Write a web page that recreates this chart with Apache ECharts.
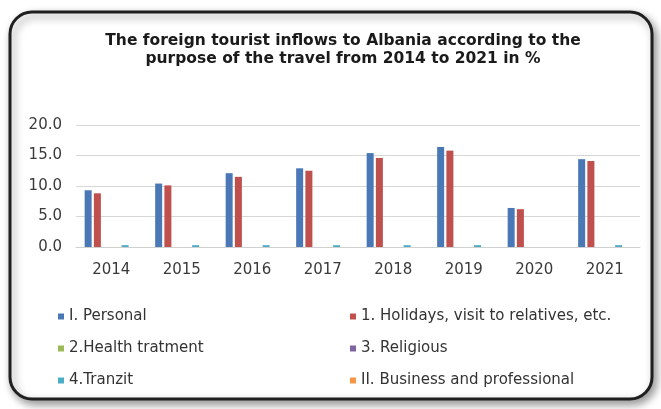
<!DOCTYPE html>
<html>
<head>
<meta charset="utf-8">
<script src="https://cdn.jsdelivr.net/npm/echarts@6/dist/echarts.min.js"></script>
<style>
  html, body { margin: 0; padding: 0; background: #ffffff; }
  #chart { width: 661px; height: 409px; }
</style>
</head>
<body>
<div id="chart"></div>
<script>
// Years on the category axis
const years = ['2014', '2015', '2016', '2017', '2018', '2019', '2020', '2021'];

// Share of foreign tourist inflows by purpose of travel (%)
const personal  = [9.3, 10.4, 12.1, 12.9, 15.4, 16.4, 6.4, 14.4];
const holidays  = [8.8, 10.1, 11.5, 12.5, 14.6, 15.8, 6.2, 14.1];
const health    = [0.0, 0.0, 0.0, 0.0, 0.0, 0.0, 0.0, 0.0];
const religious = [0.0, 0.0, 0.0, 0.0, 0.0, 0.0, 0.0, 0.0];
const tranzit   = [0.3, 0.3, 0.3, 0.3, 0.3, 0.3, 0.0, 0.3];
const business  = [0.0, 0.0, 0.0, 0.0, 0.0, 0.0, 0.0, 0.0];

// Value axis ticks
const yTicks = [0, 5, 10, 15, 20];

const seriesNames = [
  'I. Personal',
  '1. Holidays, visit to relatives, etc.',
  '2.Health tratment',
  '3. Religious',
  '4.Tranzit',
  'II. Business and professional'
];
const seriesData = [personal, holidays, health, religious, tranzit, business];
const seriesColors = ['#4a78b6', '#c0504d', '#9bbb59', '#8064a2', '#4bacc6', '#f79646'];

const font = 'DejaVu Sans, Liberation Sans, Arial, sans-serif';

const chart = echarts.init(document.getElementById('chart'), null, { renderer: 'canvas' });

const legendText = { fontFamily: font, fontSize: 15, color: '#333333' };

chart.setOption({
  backgroundColor: '#ffffff',
  animation: false,
  graphic: [{
    type: 'rect',
    z: -10,
    shape: { x: 10, y: 12, width: 642, height: 387, r: 22 },
    style: {
      fill: '#ffffff',
      stroke: '#1f1f1f',
      lineWidth: 3,
      shadowBlur: 9,
      shadowOffsetX: 3,
      shadowOffsetY: 4,
      shadowColor: 'rgba(0,0,0,0.4)'
    }
  }],
  title: {
    text: 'The foreign tourist inflows to Albania according to the\npurpose of the travel from 2014 to 2021 in %',
    left: 338,
    textAlign: 'center',
    top: 27,
    textStyle: {
      fontFamily: font,
      fontSize: 15.5,
      fontWeight: 'bold',
      color: '#1a1a1a',
      lineHeight: 18
    }
  },
  legend: [
    {
      orient: 'vertical',
      left: 53,
      top: 304,
      itemWidth: 6,
      itemHeight: 6,
      itemGap: 17,
      icon: 'rect',
      itemStyle: { borderWidth: 0 },
      textStyle: legendText,
      data: [seriesNames[0], seriesNames[2], seriesNames[4]]
    },
    {
      orient: 'vertical',
      left: 345,
      top: 304,
      itemWidth: 6,
      itemHeight: 6,
      itemGap: 17,
      icon: 'rect',
      itemStyle: { borderWidth: 0 },
      textStyle: legendText,
      data: [seriesNames[1], seriesNames[3], seriesNames[5]]
    }
  ],
  grid: { left: 76, right: 21, top: 125, bottom: 162, containLabel: false },
  xAxis: {
    type: 'category',
    data: years,
    axisTick: { show: false },
    axisLine: { lineStyle: { color: '#d0d0d0', width: 1 } },
    axisLabel: { fontFamily: font, fontSize: 15, color: '#3a3a3a', margin: 16 }
  },
  yAxis: {
    type: 'value',
    min: yTicks[0],
    max: yTicks[yTicks.length - 1],
    interval: yTicks[1] - yTicks[0],
    axisLine: { show: false },
    axisTick: { show: false },
    splitLine: { lineStyle: { color: '#d6d6d6', width: 1 } },
    axisLabel: {
      fontFamily: font,
      fontSize: 15,
      color: '#3a3a3a',
      margin: 14,
      formatter: v => v.toFixed(1)
    }
  },
  series: seriesNames.map((name, i) => ({
    name: name,
    type: 'bar',
    data: seriesData[i],
    barWidth: 7,
    barGap: '32%',
    itemStyle: {
      color: seriesColors[i],
      borderWidth: 0
    }
  }))
});
</script>
</body>
</html>
